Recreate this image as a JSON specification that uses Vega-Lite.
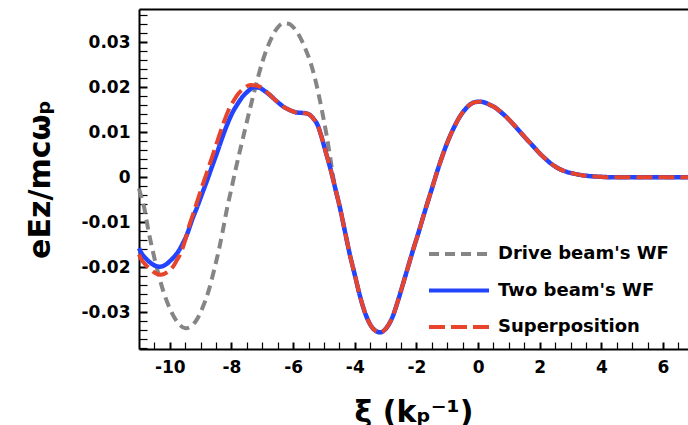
{
  "$schema": "https://vega.github.io/schema/vega-lite/v6.json",
  "width": 549,
  "height": 340,
  "autosize": {"type": "none"},
  "padding": {"left": 139, "top": 9, "right": 0, "bottom": 76},
  "background": "white",
  "config": {
    "view": {"stroke": null},
    "legend": {
      "orient": "none",
      "legendX": 308,
      "legendY": 233,
      "symbolType": "M-3,0H3",
      "symbolSize": 400,
      "symbolStrokeWidth": 4,
      "labelFont": "DejaVu Sans",
      "labelFontSize": 18,
      "labelFontWeight": "bold",
      "labelColor": "black",
      "labelOffset": 27,
      "labelLimit": 400,
      "padding": 0,
      "rowPadding": 15.5
    }
  },
  "data": {
    "values": [
      {"s": "Drive beam's WF", "x": -11.0, "v": -0.0025},
      {"s": "Drive beam's WF", "x": -10.95, "v": -0.0038},
      {"s": "Drive beam's WF", "x": -10.85, "v": -0.0062},
      {"s": "Drive beam's WF", "x": -10.68, "v": -0.0124},
      {"s": "Drive beam's WF", "x": -10.46, "v": -0.0191},
      {"s": "Drive beam's WF", "x": -10.19, "v": -0.0258},
      {"s": "Drive beam's WF", "x": -9.93, "v": -0.0302},
      {"s": "Drive beam's WF", "x": -9.7, "v": -0.0327},
      {"s": "Drive beam's WF", "x": -9.49, "v": -0.0336},
      {"s": "Drive beam's WF", "x": -9.3, "v": -0.0331},
      {"s": "Drive beam's WF", "x": -9.11, "v": -0.0315},
      {"s": "Drive beam's WF", "x": -8.92, "v": -0.0287},
      {"s": "Drive beam's WF", "x": -8.73, "v": -0.025},
      {"s": "Drive beam's WF", "x": -8.57, "v": -0.0208},
      {"s": "Drive beam's WF", "x": -8.41, "v": -0.0162},
      {"s": "Drive beam's WF", "x": -8.27, "v": -0.0115},
      {"s": "Drive beam's WF", "x": -8.14, "v": -0.0068},
      {"s": "Drive beam's WF", "x": -8.0, "v": -0.0025},
      {"s": "Drive beam's WF", "x": -7.87, "v": 0.0016},
      {"s": "Drive beam's WF", "x": -7.7, "v": 0.0066},
      {"s": "Drive beam's WF", "x": -7.54, "v": 0.0112},
      {"s": "Drive beam's WF", "x": -7.4, "v": 0.0152},
      {"s": "Drive beam's WF", "x": -7.28, "v": 0.0185},
      {"s": "Drive beam's WF", "x": -7.14, "v": 0.0222},
      {"s": "Drive beam's WF", "x": -7.0, "v": 0.0256},
      {"s": "Drive beam's WF", "x": -6.86, "v": 0.0284},
      {"s": "Drive beam's WF", "x": -6.7, "v": 0.031},
      {"s": "Drive beam's WF", "x": -6.5, "v": 0.0333},
      {"s": "Drive beam's WF", "x": -6.32, "v": 0.0342},
      {"s": "Drive beam's WF", "x": -6.15, "v": 0.0341},
      {"s": "Drive beam's WF", "x": -5.95, "v": 0.033},
      {"s": "Drive beam's WF", "x": -5.78, "v": 0.0312},
      {"s": "Drive beam's WF", "x": -5.6, "v": 0.0285},
      {"s": "Drive beam's WF", "x": -5.45, "v": 0.0258},
      {"s": "Drive beam's WF", "x": -5.3, "v": 0.0222},
      {"s": "Drive beam's WF", "x": -5.15, "v": 0.0177},
      {"s": "Drive beam's WF", "x": -5.0, "v": 0.0125},
      {"s": "Drive beam's WF", "x": -4.9, "v": 0.0088},
      {"s": "Drive beam's WF", "x": -4.8, "v": 0.0045},
      {"s": "Drive beam's WF", "x": -4.65, "v": -0.002},
      {"s": "Drive beam's WF", "x": -4.49, "v": -0.0065},
      {"s": "Drive beam's WF", "x": -4.33, "v": -0.0117},
      {"s": "Drive beam's WF", "x": -4.17, "v": -0.0169},
      {"s": "Drive beam's WF", "x": -4.0, "v": -0.0217},
      {"s": "Drive beam's WF", "x": -3.84, "v": -0.0262},
      {"s": "Drive beam's WF", "x": -3.62, "v": -0.031},
      {"s": "Drive beam's WF", "x": -3.4, "v": -0.0337},
      {"s": "Drive beam's WF", "x": -3.18, "v": -0.0345},
      {"s": "Drive beam's WF", "x": -2.96, "v": -0.0334},
      {"s": "Drive beam's WF", "x": -2.76, "v": -0.0308},
      {"s": "Drive beam's WF", "x": -2.6, "v": -0.0275},
      {"s": "Drive beam's WF", "x": -2.43, "v": -0.0236},
      {"s": "Drive beam's WF", "x": -2.27, "v": -0.0199},
      {"s": "Drive beam's WF", "x": -2.11, "v": -0.0162},
      {"s": "Drive beam's WF", "x": -1.94, "v": -0.0125},
      {"s": "Drive beam's WF", "x": -1.78, "v": -0.0088},
      {"s": "Drive beam's WF", "x": -1.51, "v": -0.0028},
      {"s": "Drive beam's WF", "x": -1.24, "v": 0.0031},
      {"s": "Drive beam's WF", "x": -0.92, "v": 0.009},
      {"s": "Drive beam's WF", "x": -0.75, "v": 0.0115},
      {"s": "Drive beam's WF", "x": -0.59, "v": 0.0135},
      {"s": "Drive beam's WF", "x": -0.43, "v": 0.015},
      {"s": "Drive beam's WF", "x": -0.27, "v": 0.0161},
      {"s": "Drive beam's WF", "x": -0.1, "v": 0.0167},
      {"s": "Drive beam's WF", "x": 0.05, "v": 0.0168},
      {"s": "Drive beam's WF", "x": 0.22, "v": 0.0166},
      {"s": "Drive beam's WF", "x": 0.38, "v": 0.0161},
      {"s": "Drive beam's WF", "x": 0.55, "v": 0.0155},
      {"s": "Drive beam's WF", "x": 0.7, "v": 0.0147},
      {"s": "Drive beam's WF", "x": 0.9, "v": 0.0135},
      {"s": "Drive beam's WF", "x": 1.14, "v": 0.0118},
      {"s": "Drive beam's WF", "x": 1.35, "v": 0.0102},
      {"s": "Drive beam's WF", "x": 1.57, "v": 0.0085},
      {"s": "Drive beam's WF", "x": 1.8, "v": 0.0068},
      {"s": "Drive beam's WF", "x": 2.0, "v": 0.0053},
      {"s": "Drive beam's WF", "x": 2.2, "v": 0.004},
      {"s": "Drive beam's WF", "x": 2.43, "v": 0.0027},
      {"s": "Drive beam's WF", "x": 2.65, "v": 0.0018},
      {"s": "Drive beam's WF", "x": 2.87, "v": 0.0012},
      {"s": "Drive beam's WF", "x": 3.1, "v": 0.0008},
      {"s": "Drive beam's WF", "x": 3.41, "v": 0.0004},
      {"s": "Drive beam's WF", "x": 3.7, "v": 0.0002},
      {"s": "Drive beam's WF", "x": 3.95, "v": 0.0001},
      {"s": "Drive beam's WF", "x": 4.3, "v": 0},
      {"s": "Drive beam's WF", "x": 5.0, "v": 0},
      {"s": "Drive beam's WF", "x": 6.0, "v": 0},
      {"s": "Drive beam's WF", "x": 6.81, "v": 0},

      {"s": "Two beam's WF", "x": -11.0, "v": -0.0158},
      {"s": "Two beam's WF", "x": -10.95, "v": -0.0165},
      {"s": "Two beam's WF", "x": -10.7, "v": -0.0186},
      {"s": "Two beam's WF", "x": -10.5, "v": -0.0196},
      {"s": "Two beam's WF", "x": -10.33, "v": -0.0199},
      {"s": "Two beam's WF", "x": -10.15, "v": -0.0195},
      {"s": "Two beam's WF", "x": -9.93, "v": -0.0182},
      {"s": "Two beam's WF", "x": -9.75, "v": -0.0168},
      {"s": "Two beam's WF", "x": -9.6, "v": -0.015},
      {"s": "Two beam's WF", "x": -9.43, "v": -0.0125},
      {"s": "Two beam's WF", "x": -9.28, "v": -0.0095},
      {"s": "Two beam's WF", "x": -9.1, "v": -0.0064},
      {"s": "Two beam's WF", "x": -8.95, "v": -0.0036},
      {"s": "Two beam's WF", "x": -8.78, "v": -0.0005},
      {"s": "Two beam's WF", "x": -8.63, "v": 0.0024},
      {"s": "Two beam's WF", "x": -8.45, "v": 0.0058},
      {"s": "Two beam's WF", "x": -8.3, "v": 0.0088},
      {"s": "Two beam's WF", "x": -8.14, "v": 0.0117},
      {"s": "Two beam's WF", "x": -7.98, "v": 0.0142},
      {"s": "Two beam's WF", "x": -7.8, "v": 0.0163},
      {"s": "Two beam's WF", "x": -7.65, "v": 0.0178},
      {"s": "Two beam's WF", "x": -7.45, "v": 0.0192},
      {"s": "Two beam's WF", "x": -7.28, "v": 0.02},
      {"s": "Two beam's WF", "x": -7.1, "v": 0.0199},
      {"s": "Two beam's WF", "x": -6.95, "v": 0.0193},
      {"s": "Two beam's WF", "x": -6.76, "v": 0.0183},
      {"s": "Two beam's WF", "x": -6.55, "v": 0.017},
      {"s": "Two beam's WF", "x": -6.32, "v": 0.0157},
      {"s": "Two beam's WF", "x": -6.1, "v": 0.0149},
      {"s": "Two beam's WF", "x": -5.89, "v": 0.0144},
      {"s": "Two beam's WF", "x": -5.7, "v": 0.0143},
      {"s": "Two beam's WF", "x": -5.57, "v": 0.0142},
      {"s": "Two beam's WF", "x": -5.45, "v": 0.0138},
      {"s": "Two beam's WF", "x": -5.35, "v": 0.0131},
      {"s": "Two beam's WF", "x": -5.2, "v": 0.0115},
      {"s": "Two beam's WF", "x": -5.08, "v": 0.009},
      {"s": "Two beam's WF", "x": -4.95, "v": 0.0058},
      {"s": "Two beam's WF", "x": -4.81, "v": 0.0024},
      {"s": "Two beam's WF", "x": -4.65, "v": -0.002},
      {"s": "Two beam's WF", "x": -4.49, "v": -0.0065},
      {"s": "Two beam's WF", "x": -4.33, "v": -0.0117},
      {"s": "Two beam's WF", "x": -4.17, "v": -0.0169},
      {"s": "Two beam's WF", "x": -4.0, "v": -0.0217},
      {"s": "Two beam's WF", "x": -3.84, "v": -0.0262},
      {"s": "Two beam's WF", "x": -3.62, "v": -0.031},
      {"s": "Two beam's WF", "x": -3.4, "v": -0.0337},
      {"s": "Two beam's WF", "x": -3.18, "v": -0.0345},
      {"s": "Two beam's WF", "x": -2.96, "v": -0.0334},
      {"s": "Two beam's WF", "x": -2.76, "v": -0.0308},
      {"s": "Two beam's WF", "x": -2.6, "v": -0.0275},
      {"s": "Two beam's WF", "x": -2.43, "v": -0.0236},
      {"s": "Two beam's WF", "x": -2.27, "v": -0.0199},
      {"s": "Two beam's WF", "x": -2.11, "v": -0.0162},
      {"s": "Two beam's WF", "x": -1.94, "v": -0.0125},
      {"s": "Two beam's WF", "x": -1.78, "v": -0.0088},
      {"s": "Two beam's WF", "x": -1.51, "v": -0.0028},
      {"s": "Two beam's WF", "x": -1.24, "v": 0.0031},
      {"s": "Two beam's WF", "x": -0.92, "v": 0.009},
      {"s": "Two beam's WF", "x": -0.75, "v": 0.0115},
      {"s": "Two beam's WF", "x": -0.59, "v": 0.0135},
      {"s": "Two beam's WF", "x": -0.43, "v": 0.015},
      {"s": "Two beam's WF", "x": -0.27, "v": 0.0161},
      {"s": "Two beam's WF", "x": -0.1, "v": 0.0167},
      {"s": "Two beam's WF", "x": 0.05, "v": 0.0168},
      {"s": "Two beam's WF", "x": 0.22, "v": 0.0166},
      {"s": "Two beam's WF", "x": 0.38, "v": 0.0161},
      {"s": "Two beam's WF", "x": 0.55, "v": 0.0155},
      {"s": "Two beam's WF", "x": 0.7, "v": 0.0147},
      {"s": "Two beam's WF", "x": 0.9, "v": 0.0135},
      {"s": "Two beam's WF", "x": 1.14, "v": 0.0118},
      {"s": "Two beam's WF", "x": 1.35, "v": 0.0102},
      {"s": "Two beam's WF", "x": 1.57, "v": 0.0085},
      {"s": "Two beam's WF", "x": 1.8, "v": 0.0068},
      {"s": "Two beam's WF", "x": 2.0, "v": 0.0053},
      {"s": "Two beam's WF", "x": 2.2, "v": 0.004},
      {"s": "Two beam's WF", "x": 2.43, "v": 0.0027},
      {"s": "Two beam's WF", "x": 2.65, "v": 0.0018},
      {"s": "Two beam's WF", "x": 2.87, "v": 0.0012},
      {"s": "Two beam's WF", "x": 3.1, "v": 0.0008},
      {"s": "Two beam's WF", "x": 3.41, "v": 0.0004},
      {"s": "Two beam's WF", "x": 3.7, "v": 0.0002},
      {"s": "Two beam's WF", "x": 3.95, "v": 0.0001},
      {"s": "Two beam's WF", "x": 4.3, "v": 0},
      {"s": "Two beam's WF", "x": 5.0, "v": 0},
      {"s": "Two beam's WF", "x": 6.0, "v": 0},
      {"s": "Two beam's WF", "x": 6.81, "v": 0},

      {"s": "Superposition", "x": -11.0, "v": -0.0172},
      {"s": "Superposition", "x": -10.95, "v": -0.018},
      {"s": "Superposition", "x": -10.75, "v": -0.0197},
      {"s": "Superposition", "x": -10.58, "v": -0.0208},
      {"s": "Superposition", "x": -10.45, "v": -0.0214},
      {"s": "Superposition", "x": -10.3, "v": -0.0217},
      {"s": "Superposition", "x": -10.1, "v": -0.0212},
      {"s": "Superposition", "x": -9.93, "v": -0.0202},
      {"s": "Superposition", "x": -9.8, "v": -0.0188},
      {"s": "Superposition", "x": -9.65, "v": -0.0169},
      {"s": "Superposition", "x": -9.5, "v": -0.014},
      {"s": "Superposition", "x": -9.38, "v": -0.011},
      {"s": "Superposition", "x": -9.22, "v": -0.0077},
      {"s": "Superposition", "x": -9.06, "v": -0.0043},
      {"s": "Superposition", "x": -8.9, "v": -0.001},
      {"s": "Superposition", "x": -8.73, "v": 0.0024},
      {"s": "Superposition", "x": -8.57, "v": 0.0057},
      {"s": "Superposition", "x": -8.41, "v": 0.009},
      {"s": "Superposition", "x": -8.25, "v": 0.0122},
      {"s": "Superposition", "x": -8.09, "v": 0.015},
      {"s": "Superposition", "x": -7.92, "v": 0.0171},
      {"s": "Superposition", "x": -7.76, "v": 0.0187},
      {"s": "Superposition", "x": -7.57, "v": 0.0199},
      {"s": "Superposition", "x": -7.38, "v": 0.0205},
      {"s": "Superposition", "x": -7.2, "v": 0.0204},
      {"s": "Superposition", "x": -7.0, "v": 0.0198},
      {"s": "Superposition", "x": -6.8, "v": 0.0186},
      {"s": "Superposition", "x": -6.55, "v": 0.017},
      {"s": "Superposition", "x": -6.32, "v": 0.0157},
      {"s": "Superposition", "x": -6.1, "v": 0.0149},
      {"s": "Superposition", "x": -5.89, "v": 0.0144},
      {"s": "Superposition", "x": -5.7, "v": 0.0143},
      {"s": "Superposition", "x": -5.57, "v": 0.0142},
      {"s": "Superposition", "x": -5.45, "v": 0.0138},
      {"s": "Superposition", "x": -5.35, "v": 0.0131},
      {"s": "Superposition", "x": -5.2, "v": 0.0115},
      {"s": "Superposition", "x": -5.08, "v": 0.009},
      {"s": "Superposition", "x": -4.95, "v": 0.0058},
      {"s": "Superposition", "x": -4.81, "v": 0.0024},
      {"s": "Superposition", "x": -4.65, "v": -0.002},
      {"s": "Superposition", "x": -4.49, "v": -0.0065},
      {"s": "Superposition", "x": -4.33, "v": -0.0117},
      {"s": "Superposition", "x": -4.17, "v": -0.0169},
      {"s": "Superposition", "x": -4.0, "v": -0.0217},
      {"s": "Superposition", "x": -3.84, "v": -0.0262},
      {"s": "Superposition", "x": -3.62, "v": -0.031},
      {"s": "Superposition", "x": -3.4, "v": -0.0337},
      {"s": "Superposition", "x": -3.18, "v": -0.0345},
      {"s": "Superposition", "x": -2.96, "v": -0.0334},
      {"s": "Superposition", "x": -2.76, "v": -0.0308},
      {"s": "Superposition", "x": -2.6, "v": -0.0275},
      {"s": "Superposition", "x": -2.43, "v": -0.0236},
      {"s": "Superposition", "x": -2.27, "v": -0.0199},
      {"s": "Superposition", "x": -2.11, "v": -0.0162},
      {"s": "Superposition", "x": -1.94, "v": -0.0125},
      {"s": "Superposition", "x": -1.78, "v": -0.0088},
      {"s": "Superposition", "x": -1.51, "v": -0.0028},
      {"s": "Superposition", "x": -1.24, "v": 0.0031},
      {"s": "Superposition", "x": -0.92, "v": 0.009},
      {"s": "Superposition", "x": -0.75, "v": 0.0115},
      {"s": "Superposition", "x": -0.59, "v": 0.0135},
      {"s": "Superposition", "x": -0.43, "v": 0.015},
      {"s": "Superposition", "x": -0.27, "v": 0.0161},
      {"s": "Superposition", "x": -0.1, "v": 0.0167},
      {"s": "Superposition", "x": 0.05, "v": 0.0168},
      {"s": "Superposition", "x": 0.22, "v": 0.0166},
      {"s": "Superposition", "x": 0.38, "v": 0.0161},
      {"s": "Superposition", "x": 0.55, "v": 0.0155},
      {"s": "Superposition", "x": 0.7, "v": 0.0147},
      {"s": "Superposition", "x": 0.9, "v": 0.0135},
      {"s": "Superposition", "x": 1.14, "v": 0.0118},
      {"s": "Superposition", "x": 1.35, "v": 0.0102},
      {"s": "Superposition", "x": 1.57, "v": 0.0085},
      {"s": "Superposition", "x": 1.8, "v": 0.0068},
      {"s": "Superposition", "x": 2.0, "v": 0.0053},
      {"s": "Superposition", "x": 2.2, "v": 0.004},
      {"s": "Superposition", "x": 2.43, "v": 0.0027},
      {"s": "Superposition", "x": 2.65, "v": 0.0018},
      {"s": "Superposition", "x": 2.87, "v": 0.0012},
      {"s": "Superposition", "x": 3.1, "v": 0.0008},
      {"s": "Superposition", "x": 3.41, "v": 0.0004},
      {"s": "Superposition", "x": 3.7, "v": 0.0002},
      {"s": "Superposition", "x": 3.95, "v": 0.0001},
      {"s": "Superposition", "x": 4.3, "v": 0},
      {"s": "Superposition", "x": 5.0, "v": 0},
      {"s": "Superposition", "x": 6.0, "v": 0},
      {"s": "Superposition", "x": 6.81, "v": 0}
    ]
  },
  "layer": [
    {
      "encoding": {
        "x": {
          "field": "x", "type": "quantitative",
          "scale": {"domain": [-11, 6.81], "nice": false, "zero": false},
          "axis": {
            "orient": "bottom",
            "values": [-10.5, -10, -9.5, -9, -8.5, -8, -7.5, -7, -6.5, -6, -5.5, -5, -4.5, -4, -3.5, -3, -2.5, -2, -1.5, -1, -0.5, 0, 0.5, 1, 1.5, 2, 2.5, 3, 3.5, 4, 4.5, 5, 5.5, 6, 6.5],
            "labelExpr": "abs(datum.value % 2) < 0.001 ? (datum.value < 0 ? '-' + abs(datum.value) : '' + datum.value) : ''",
            "grid": false,
            "ticks": true,
            "domainColor": "black", "domainWidth": 2,
            "tickColor": "black", "tickSize": -7,
            "tickWidth": {"condition": {"test": "abs(datum.value % 2) < 0.001", "value": 2}, "value": 1.2},
            "labelPadding": 17,
            "labelFont": "DejaVu Sans", "labelFontSize": 17, "labelFontWeight": "bold", "labelColor": "black",
            "labelOverlap": false, "labelFlush": false,
            "title": "ξ (kₚ⁻¹)",
            "titleFont": "DejaVu Sans", "titleFontSize": 30, "titleFontWeight": "bold", "titleColor": "black",
            "titlePadding": 22
          }
        },
        "y": {
          "field": "v", "type": "quantitative",
          "scale": {"domain": [-0.0382, 0.0374], "nice": false, "zero": false},
          "axis": {
            "orient": "left",
            "values": [-0.038, -0.036, -0.034, -0.032, -0.03, -0.028, -0.026, -0.024, -0.022, -0.02, -0.018, -0.016, -0.014, -0.012, -0.01, -0.008, -0.006, -0.004, -0.002, 0, 0.002, 0.004, 0.006, 0.008, 0.01, 0.012, 0.014, 0.016, 0.018, 0.02, 0.022, 0.024, 0.026, 0.028, 0.03, 0.032, 0.034, 0.036],
            "labelExpr": "abs(datum.value*100 - round(datum.value*100)) < 0.000001 ? (datum.value < -0.0001 ? '-' + abs(round(datum.value*100)/100) : '' + round(datum.value*100)/100) : ''",
            "grid": false,
            "ticks": true,
            "domainColor": "black", "domainWidth": 2,
            "tickColor": "black", "tickSize": -8,
            "tickWidth": {"condition": {"test": "abs(datum.value*100 - round(datum.value*100)) < 0.000001", "value": 2}, "value": 1.2},
            "labelPadding": 17,
            "labelFont": "DejaVu Sans", "labelFontSize": 17, "labelFontWeight": "bold", "labelColor": "black",
            "labelOverlap": false, "labelFlush": false,
            "title": "eEz/mcωₚ",
            "titleFont": "DejaVu Sans", "titleFontSize": 30, "titleFontWeight": "bold", "titleColor": "black",
            "titlePadding": 26
          }
        },
        "color": {
          "field": "s", "type": "nominal", "title": null,
          "scale": {"domain": ["Drive beam's WF", "Two beam's WF", "Superposition"], "range": ["#858585", "#2244ff", "#e8432b"]}
        },
        "strokeDash": {
          "field": "s", "type": "nominal", "title": null,
          "scale": {"domain": ["Drive beam's WF", "Two beam's WF", "Superposition"], "range": [[10, 6], [1, 0], [16, 6]]}
        }
      },
      "layer": [
        {"transform": [{"filter": {"field": "s", "equal": "Drive beam's WF"}}], "mark": {"type": "line", "strokeWidth": 4, "interpolate": "monotone"}},
        {"transform": [{"filter": {"field": "s", "equal": "Two beam's WF"}}], "mark": {"type": "line", "strokeWidth": 4.5, "interpolate": "monotone"}},
        {"transform": [{"filter": {"field": "s", "equal": "Superposition"}}], "mark": {"type": "line", "strokeWidth": 4, "interpolate": "monotone"}}
      ]
    },
    {
      "transform": [{"filter": {"field": "s", "equal": "Superposition"}}],
      "mark": {"type": "line", "opacity": 0},
      "encoding": {
        "x": {"field": "x", "type": "quantitative", "axis": {"orient": "top", "ticks": false, "labels": false, "grid": false, "domainColor": "black", "domainWidth": 2, "title": null}},
        "y": {"field": "v", "type": "quantitative", "axis": null}
      }
    }
  ],
  "resolve": {"axis": {"x": "independent", "y": "independent"}}
}
